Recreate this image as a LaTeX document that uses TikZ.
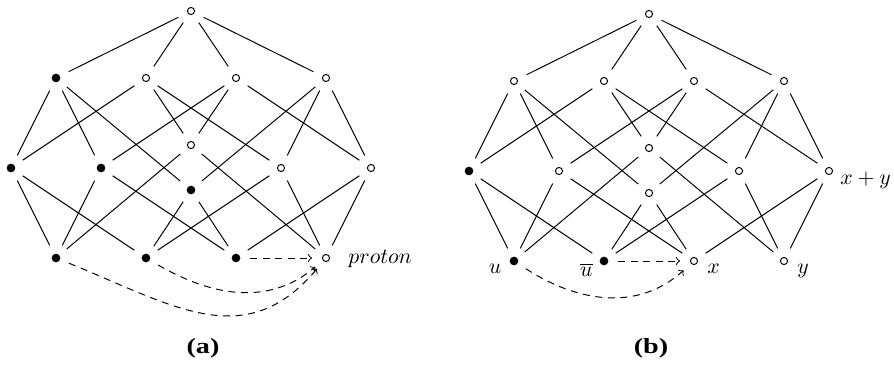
\documentclass[tikz,border=0pt]{standalone}
\usepackage{fontspec}
\usepackage{graphicx}
\newfontfamily\capfont{Liberation Serif}
\begin{document}
\begin{tikzpicture}[x=0.0162cm, y=0.0162cm, line width=0.45pt]
  \tikzset{
    full/.style={circle, fill=black, inner sep=0pt, minimum size=4pt, outer sep=4.5pt},
    empty/.style={circle, draw=black, fill=white, inner sep=0pt, minimum size=3.3pt, outer sep=4.8pt},
    move/.style={->, dash pattern=on 3.2pt off 2.6pt},
    lbl/.style={inner sep=0pt},
    captxt/.style={font=\capfont\bfseries}
  }
  \useasboundingbox (0,0) rectangle (894,364);

  % Panel (a)
  \node[empty] (a-top) at (191,353) {};
  \node[full]  (a-123) at (56,286) {};
  \node[empty] (a-124) at (146,286) {};
  \node[empty] (a-134) at (236,286) {};
  \node[empty] (a-234) at (326,286) {};
  \node[full]  (a-12) at (11,196) {};
  \node[full]  (a-13) at (101,196) {};
  \node[empty] (a-14) at (191,219) {};
  \node[full]  (a-23) at (191,174) {};
  \node[empty] (a-24) at (281,196) {};
  \node[empty] (a-34) at (371,196) {};
  \node[full]  (a-1) at (56,106) {};
  \node[full]  (a-2) at (146,106) {};
  \node[full]  (a-3) at (236,106) {};
  \node[empty] (a-4) at (326,106) {};
  \node[lbl, anchor=west] (a-proton) at (348,105) {$proton$};

  % Panel (b)
  \begin{scope}[shift={(458,-3)}]
    \node[empty] (b-top) at (191,353) {};
    \node[empty] (b-123) at (56,286) {};
    \node[empty] (b-124) at (146,286) {};
    \node[empty] (b-134) at (236,286) {};
    \node[empty] (b-234) at (326,286) {};
    \node[full]  (b-12) at (11,196) {};
    \node[empty] (b-13) at (101,196) {};
    \node[empty] (b-14) at (191,219) {};
    \node[empty] (b-23) at (191,174) {};
    \node[empty] (b-24) at (281,196) {};
    \node[empty] (b-34) at (371,196) {};
    \node[full]  (b-1) at (56,106) {};
    \node[full]  (b-2) at (146,106) {};
    \node[empty] (b-3) at (236,106) {};
    \node[empty] (b-4) at (326,106) {};
  \end{scope}
  \node[lbl, anchor=west] (b-xy) at (840,184) {$x+y$};
  \node[lbl, anchor=base east] (b-u) at (501.7,90) {$u$};
  \node[lbl, anchor=base east] (b-ubar) at (593,87) {$\overline{u}$};
  \node[lbl, anchor=base west] (b-x) at (707,91) {$x$};
  \node[lbl, anchor=base west] (b-y) at (797,91) {$y$};

  % Lattice edges
  \foreach \p in {a,b} {
    \foreach \t in {123,124,134,234}
      \draw (\p-top) -- (\p-\t);
    \foreach \t/\s in {123/12,123/13,123/23,124/12,124/14,124/24,
                       134/13,134/14,134/34,234/23,234/24,234/34}
      \draw (\p-\t) -- (\p-\s);
    \foreach \s/\u in {12/1,12/2,13/1,13/3,14/1,14/4,
                       23/2,23/3,24/2,24/4,34/3,34/4}
      \draw (\p-\s) -- (\p-\u);
  }

  % Dashed moves
  \draw[move] (a-3) -- (a-4);
  \draw[move] (a-2) to[out=-30, in=-140] (a-4);
  \draw[move] (a-1) to[out=-22, in=-130, looseness=1.15] (a-4);
  \draw[move] (b-2) -- (b-3);
  \draw[move] (b-1) to[out=-33, in=-138] (b-3);

  % Captions
  \node[captxt] (a-cap) at (203,16) {\scalebox{1.3}[1]{(a)}};
  \node[captxt] (b-cap) at (651,16) {\scalebox{1.3}[1]{(b)}};
\end{tikzpicture}
\end{document}
